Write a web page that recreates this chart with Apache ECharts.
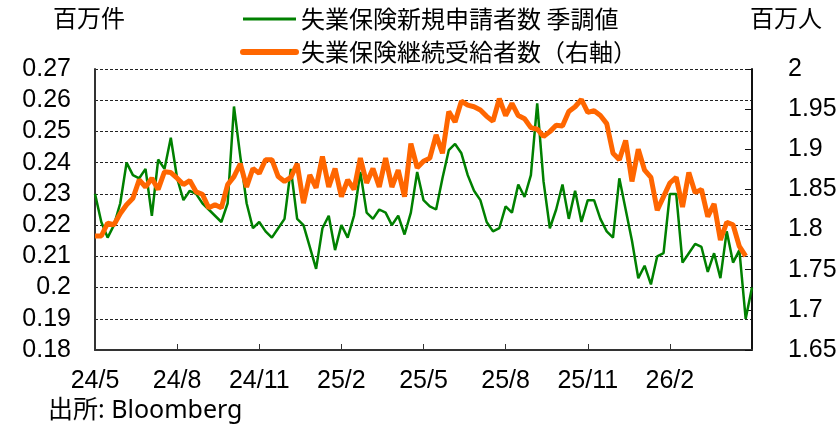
<!DOCTYPE html>
<html>
<head>
<meta charset="utf-8">
<script src="https://cdn.jsdelivr.net/npm/echarts@6/dist/echarts.min.js"></script>
<style>
  html, body { margin: 0; padding: 0; background: #fff; }
  #main { width: 840px; height: 433px; }
</style>
</head>
<body>
<div id="main"></div>
<script>
// 週次データ（2024年5月〜2026年4月）
var startDate = new Date(2024, 4, 4);
var weeks = [];
for (var i = 0; i < 105; i++) {
    var d = new Date(startDate.getTime() + i * 7 * 86400000);
    weeks.push(d.getFullYear() + '-' + (d.getMonth() + 1) + '-' + d.getDate());
}

// 目盛りラベル
var tickPos = [0, 13, 26, 39, 52, 65, 78, 91];
var tickText = ['24/5', '24/8', '24/11', '25/2', '25/5', '25/8', '25/11', '26/2'];

// 失業保険新規申請者数 季調値（百万件）
var initialClaims = [
    0.230, 0.221, 0.216, 0.220, 0.227, 0.240, 0.236, 0.235, 0.238, 0.223,
    0.241, 0.238, 0.248, 0.235, 0.228, 0.231, 0.230, 0.227, 0.225, 0.223,
    0.221, 0.227, 0.258, 0.242, 0.227, 0.219, 0.221, 0.218, 0.216, 0.219,
    0.222, 0.238, 0.222, 0.220, 0.213, 0.206, 0.219, 0.223, 0.212, 0.220,
    0.216, 0.223, 0.237, 0.224, 0.222, 0.225, 0.224, 0.220, 0.223, 0.217,
    0.224, 0.237, 0.228, 0.226, 0.225, 0.235, 0.244, 0.246, 0.243, 0.236,
    0.231, 0.228, 0.221, 0.218, 0.219, 0.226, 0.224, 0.233, 0.229, 0.236,
    0.259, 0.234, 0.219, 0.225, 0.233, 0.222, 0.231, 0.221, 0.228, 0.228,
    0.222, 0.218, 0.216, 0.235, 0.225, 0.215, 0.203, 0.207, 0.201, 0.210,
    0.211, 0.230, 0.230, 0.208, 0.211, 0.214, 0.213, 0.205, 0.211, 0.203,
    0.218, 0.208, 0.212, 0.190, 0.200
];

// 失業保険継続受給者数（百万人、右軸）
var continuingClaims = [
    1.792, 1.792, 1.808, 1.806, 1.820, 1.831, 1.839, 1.862, 1.853, 1.864,
    1.850, 1.872, 1.871, 1.864, 1.856, 1.861, 1.847, 1.844, 1.827, 1.831,
    1.827, 1.856, 1.866, 1.882, 1.853, 1.876, 1.870, 1.887, 1.887, 1.866,
    1.860, 1.865, 1.882, 1.833, 1.868, 1.852, 1.891, 1.853, 1.876, 1.841,
    1.862, 1.850, 1.889, 1.858, 1.876, 1.853, 1.889, 1.853, 1.874, 1.841,
    1.907, 1.877, 1.885, 1.889, 1.918, 1.895, 1.947, 1.934, 1.960, 1.955,
    1.953, 1.949, 1.941, 1.935, 1.963, 1.942, 1.957, 1.942, 1.938, 1.927,
    1.925, 1.916, 1.922, 1.930, 1.929, 1.947, 1.953, 1.962, 1.946, 1.948,
    1.942, 1.932, 1.895, 1.887, 1.911, 1.860, 1.900, 1.874, 1.865, 1.824,
    1.841, 1.858, 1.865, 1.828, 1.871, 1.846, 1.850, 1.816, 1.832, 1.787,
    1.809, 1.806, 1.779, 1.767, null
];

var showTick = function (index) {
    return tickPos.indexOf(index) >= 0;
};

var chart = echarts.init(document.getElementById('main'), null, { renderer: 'canvas' });

var axisFont = 'Liberation Sans, Arial, sans-serif';
var cjkFont = 'Noto Sans CJK JP, sans-serif';

var option = {
    animation: false,
    backgroundColor: '#fff',
    grid: { left: 95, right: 88, top: 69, bottom: 83 },
    legend: {
        orient: 'vertical',
        left: 235,
        top: 2,
        itemWidth: 53,
        itemHeight: 14,
        itemGap: 9,
        itemStyle: { opacity: 0 },
        textStyle: { fontFamily: cjkFont, fontSize: 24, color: '#000' },
        data: [
            { name: '失業保険新規申請者数 季調値', lineStyle: { width: 3 } },
            { name: '失業保険継続受給者数（右軸）', lineStyle: { width: 6, cap: 'round' } }
        ]
    },
    graphic: [
        { type: 'text', left: 53, top: 6, style: { text: '百万件', font: '24px ' + cjkFont, fill: '#000' } },
        { type: 'text', left: 750, top: 6, style: { text: '百万人', font: '24px ' + cjkFont, fill: '#000' } },
        { type: 'text', left: 48, top: 398, style: { text: '出所: Bloomberg', font: '25px Noto Sans, ' + cjkFont, fill: '#000' } }
    ],
    xAxis: {
        type: 'category',
        data: weeks,
        boundaryGap: false,
        axisLine: { lineStyle: { color: '#333', width: 2 } },
        axisTick: { inside: true, length: 6, interval: showTick, lineStyle: { color: '#333' } },
        axisLabel: {
            interval: showTick,
            margin: 19,
            fontFamily: axisFont,
            fontSize: 25,
            color: '#000',
            formatter: function (value, index) {
                return tickText[tickPos.indexOf(index)];
            }
        },
        splitLine: { show: false }
    },
    yAxis: [
        {
            type: 'value',
            min: 0.18,
            max: 0.27,
            interval: 0.01,
            axisLine: { show: true, lineStyle: { color: '#333', width: 2 } },
            axisTick: { show: false },
            axisLabel: { margin: 24, fontFamily: axisFont, fontSize: 25, color: '#000' },
            splitLine: { show: true, lineStyle: { color: '#222', type: [3, 2], width: 1 } }
        },
        {
            type: 'value',
            min: 1.65,
            max: 2,
            interval: 0.05,
            position: 'right',
            axisLine: { show: true, lineStyle: { color: '#111', width: 2 } },
            axisTick: { show: true, inside: true, length: 7, lineStyle: { color: '#111' } },
            axisLabel: { margin: 36, fontFamily: axisFont, fontSize: 25, color: '#000' },
            splitLine: { show: false }
        }
    ],
    series: [
        {
            name: '失業保険新規申請者数 季調値',
            type: 'line',
            yAxisIndex: 0,
            symbol: 'none',
            data: initialClaims,
            lineStyle: { color: '#008000', width: 2.5 },
            itemStyle: { color: '#008000' }
        },
        {
            name: '失業保険継続受給者数（右軸）',
            type: 'line',
            yAxisIndex: 1,
            symbol: 'none',
            data: continuingClaims,
            lineStyle: { color: '#FF6600', width: 5 },
            itemStyle: { color: '#FF6600' }
        }
    ]
};
chart.setOption(option);
</script>
</body>
</html>
